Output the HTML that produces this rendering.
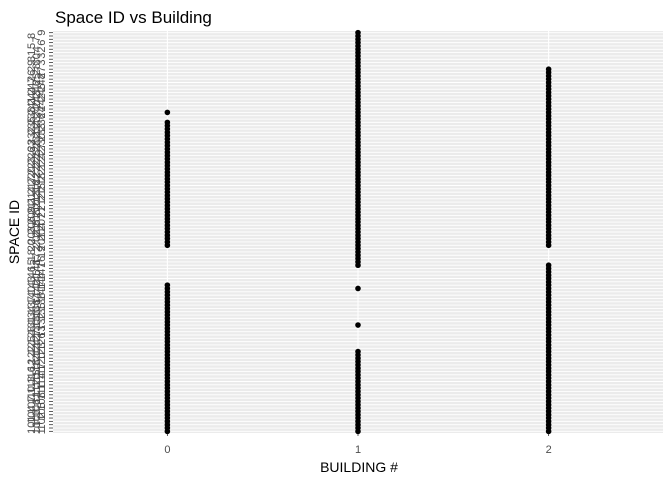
<!DOCTYPE html>
<html><head><meta charset="utf-8"><style>
body{margin:0;background:#fff;}
svg{display:block;font-family:"Liberation Sans",sans-serif;}
</style></head><body>
<svg id="chart" width="672" height="480">
<rect x="0" y="0" width="672" height="480" fill="#fff"/>
<text x="55" y="23" font-size="17" fill="#000">Space ID vs Building</text>
<rect x="53" y="31" width="610" height="402" fill="#EBEBEB"/>
<g id="grid"></g>
<g id="yaxis"></g>
<g id="xaxis"></g>
<g id="points"></g>
<text x="359" y="472" font-size="14" text-anchor="middle" fill="#000">BUILDING #</text>
<text x="19" y="232" font-size="14" text-anchor="middle" fill="#000" transform="rotate(-90 19 232)">SPACE ID</text>
</svg>
<script>
const buildings = [0, 1, 2];
const nCategories = 121;
const b0Spaces = [0,1,2,3,4,5,6,7,8,9,10,11,12,13,14,15,16,17,18,19,20,21,22,23,24,25,26,27,28,29,30,31,32,33,34,35,36,37,38,39,40,41,42,43,44,56,57,58,59,60,61,62,63,64,65,66,67,68,69,70,71,72,73,74,75,76,77,78,79,80,81,82,83,84,85,86,87,88,89,90,91,92,93,96];
const b1Spaces = [0,1,2,3,4,5,6,7,8,9,10,11,12,13,14,15,16,17,18,19,20,21,22,23,24,32,43,50,51,52,53,54,55,56,57,58,59,60,61,62,63,64,65,66,67,68,69,70,71,72,73,74,75,76,77,78,79,80,81,82,83,84,85,86,87,88,89,90,91,92,93,94,95,96,97,98,99,100,101,102,103,104,105,106,107,108,109,110,111,112,113,114,115,116,117,118,119,120];
const b2Spaces = [0,1,2,3,4,5,6,7,8,9,10,11,12,13,14,15,16,17,18,19,20,21,22,23,24,25,26,27,28,29,30,31,32,33,34,35,36,37,38,39,40,41,42,43,44,45,46,47,48,49,50,56,57,58,59,60,61,62,63,64,65,66,67,68,69,70,71,72,73,74,75,76,77,78,79,80,81,82,83,84,85,86,87,88,89,90,91,92,93,94,95,96,97,98,99,100,101,102,103,104,105,106,107,108,109];
const xTicks = ["0","1","2"];
const yLabels = ["1","10","101","102","103","104","105","106","107","108","11","110","111","112","113","114","115","116","117","118","12","120","121","122","123","124","125","126","127","128","13","130","131","132","133","134","135","136","137","138","14","140","141","142","143","144","145","146","147","148","15","16","17","18","19","2","20","201","202","203","204","205","206","207","208","209","21","210","211","212","213","214","215","216","217","218","22","220","221","222","223","224","225","226","227","228","23","230","231","232","233","234","235","236","237","238","24","240","241","242","243","244","245","246","247","248","25","26","27","28","29","3","30","31","32","4","5","6","7","8","9"];

const NS="http://www.w3.org/2000/svg";
const px0=53,px1=663,py0=31,py1=433;
const x=v=>px0+(v+0.6)/3.2*(px1-px0);
const y=i=>py1-(i+0.5)*(py1-py0)/nCategories;
function mk(tag,attrs,parent){const e=document.createElementNS(NS,tag);for(const k in attrs)e.setAttribute(k,attrs[k]);parent.appendChild(e);return e;}
const grid=document.getElementById('grid'),yax=document.getElementById('yaxis'),xax=document.getElementById('xaxis'),pts=document.getElementById('points');
const cols=[45,40,35];
for(let i=0;i<nCategories;i++){
  const l=mk('line',{x1:px0,x2:px1,y1:y(i),y2:y(i),stroke:'#fff','stroke-width':0.9},grid);
  
  
  const t=mk('line',{x1:49,x2:53,y1:y(i),y2:y(i),stroke:'#333','stroke-width':0.8},yax);
  
  
  const tx=mk('text',{x:0,y:0,'font-size':11,fill:'#4D4D4D','text-anchor':'middle',transform:`translate(${cols[i%3]} ${y(i)}) rotate(-90)`},yax);
  tx.textContent=yLabels[i]||'';
  
  
}
buildings.forEach((b,k)=>{
  const g=mk('line',{x1:x(b),x2:x(b),y1:py0,y2:py1,stroke:'#fff','stroke-width':1.1},grid);
  
  
  const t=mk('line',{x1:x(b),x2:x(b),y1:433,y2:436,stroke:'#333','stroke-width':0.8},xax);
  
  
  const tx=mk('text',{x:x(b),y:453,'font-size':11,fill:'#4D4D4D','text-anchor':'middle'},xax);
  tx.textContent=xTicks[k];
  
  
});
[b0Spaces,b1Spaces,b2Spaces].forEach((arr,k)=>{
  arr.forEach(s=>{
    const c=mk('circle',{cx:x(buildings[k]),cy:y(s),r:2.8,fill:'#000'},pts);
    
    
  });
});
</script>
</body></html>
